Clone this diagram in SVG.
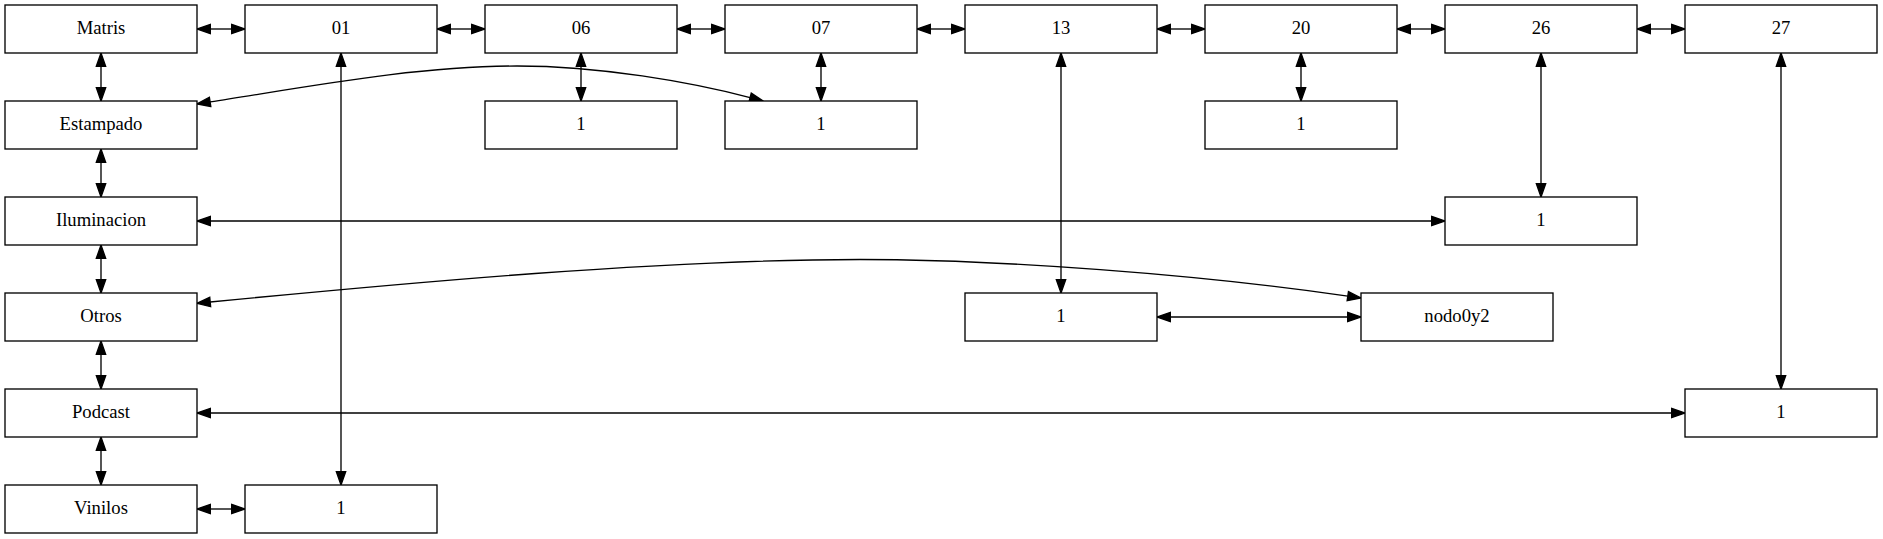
<svg xmlns="http://www.w3.org/2000/svg" width="1883" height="539" viewBox="0 0 1883 539">
<style>
.n rect{fill:#fff;stroke:#000;stroke-width:1.33}
.n text{font-family:"Liberation Serif","Times New Roman",serif;font-size:18.67px;text-anchor:middle;fill:#000}
.e path{fill:none;stroke:#000;stroke-width:1.33;marker-start:url(#ah);marker-end:url(#ah)}
</style>
<defs>
<marker id="ah" markerUnits="userSpaceOnUse" markerWidth="14" markerHeight="10" viewBox="0 -5 14 10" refX="0" refY="0" orient="auto-start-reverse" overflow="visible">
<path d="M0,-4.67 L13.33,0 L0,4.67 Z" fill="#000" stroke="#000" stroke-width="1.33"/>
</marker>
</defs>
<rect width="1883" height="539" fill="#fff"/>
<g class="e" id="edges">
<path d="M210.33,29 H231.67"/>
<path d="M450.33,29 H471.67"/>
<path d="M690.33,29 H711.67"/>
<path d="M930.33,29 H951.67"/>
<path d="M1170.33,29 H1191.67"/>
<path d="M1410.33,29 H1431.67"/>
<path d="M1650.33,29 H1671.67"/>
<path d="M101,66.33 V87.67"/>
<path d="M101,162.33 V183.67"/>
<path d="M101,258.33 V279.67"/>
<path d="M101,354.33 V375.67"/>
<path d="M101,450.33 V471.67"/>
<path d="M581,66.33 V87.67"/>
<path d="M821,66.33 V87.67"/>
<path d="M1301,66.33 V87.67"/>
<path d="M341,66.33 V471.67"/>
<path d="M1061,66.33 V279.67"/>
<path d="M1541,66.33 V183.67"/>
<path d="M1781,66.33 V375.67"/>
<path d="M210.33,221 H1431.67"/>
<path d="M1170.33,317 H1347.67"/>
<path d="M210.33,413 H1671.67"/>
<path d="M210.33,509 H231.67"/>
<path d="M210.1,101.9 C310,86.4 417,66 517,66 C600,66 690,82 750.1,97.6"/>
<path d="M210.2,302 C410,282.6 660,259.5 860,259.5 C1000,259.5 1197.8,274.4 1347.8,296.1"/>
</g>
<g class="n" id="Matris"><rect x="5" y="5" width="192" height="48"/><text x="101" y="34">Matris</text></g>
<g class="n" id="n01"><rect x="245" y="5" width="192" height="48"/><text x="341" y="34">01</text></g>
<g class="n" id="n06"><rect x="485" y="5" width="192" height="48"/><text x="581" y="34">06</text></g>
<g class="n" id="n07"><rect x="725" y="5" width="192" height="48"/><text x="821" y="34">07</text></g>
<g class="n" id="n13"><rect x="965" y="5" width="192" height="48"/><text x="1061" y="34">13</text></g>
<g class="n" id="n20"><rect x="1205" y="5" width="192" height="48"/><text x="1301" y="34">20</text></g>
<g class="n" id="n26"><rect x="1445" y="5" width="192" height="48"/><text x="1541" y="34">26</text></g>
<g class="n" id="n27"><rect x="1685" y="5" width="192" height="48"/><text x="1781" y="34">27</text></g>
<g class="n" id="Estampado"><rect x="5" y="101" width="192" height="48"/><text x="101" y="130">Estampado</text></g>
<g class="n" id="n06_1"><rect x="485" y="101" width="192" height="48"/><text x="581" y="130">1</text></g>
<g class="n" id="n07_1"><rect x="725" y="101" width="192" height="48"/><text x="821" y="130">1</text></g>
<g class="n" id="n20_1"><rect x="1205" y="101" width="192" height="48"/><text x="1301" y="130">1</text></g>
<g class="n" id="Iluminacion"><rect x="5" y="197" width="192" height="48"/><text x="101" y="226">Iluminacion</text></g>
<g class="n" id="n26_1"><rect x="1445" y="197" width="192" height="48"/><text x="1541" y="226">1</text></g>
<g class="n" id="Otros"><rect x="5" y="293" width="192" height="48"/><text x="101" y="322">Otros</text></g>
<g class="n" id="n13_1"><rect x="965" y="293" width="192" height="48"/><text x="1061" y="322">1</text></g>
<g class="n" id="nodo0y2"><rect x="1361" y="293" width="192" height="48"/><text x="1457" y="322">nodo0y2</text></g>
<g class="n" id="Podcast"><rect x="5" y="389" width="192" height="48"/><text x="101" y="418">Podcast</text></g>
<g class="n" id="n27_1"><rect x="1685" y="389" width="192" height="48"/><text x="1781" y="418">1</text></g>
<g class="n" id="Vinilos"><rect x="5" y="485" width="192" height="48"/><text x="101" y="514">Vinilos</text></g>
<g class="n" id="n01_1"><rect x="245" y="485" width="192" height="48"/><text x="341" y="514">1</text></g>
</svg>
